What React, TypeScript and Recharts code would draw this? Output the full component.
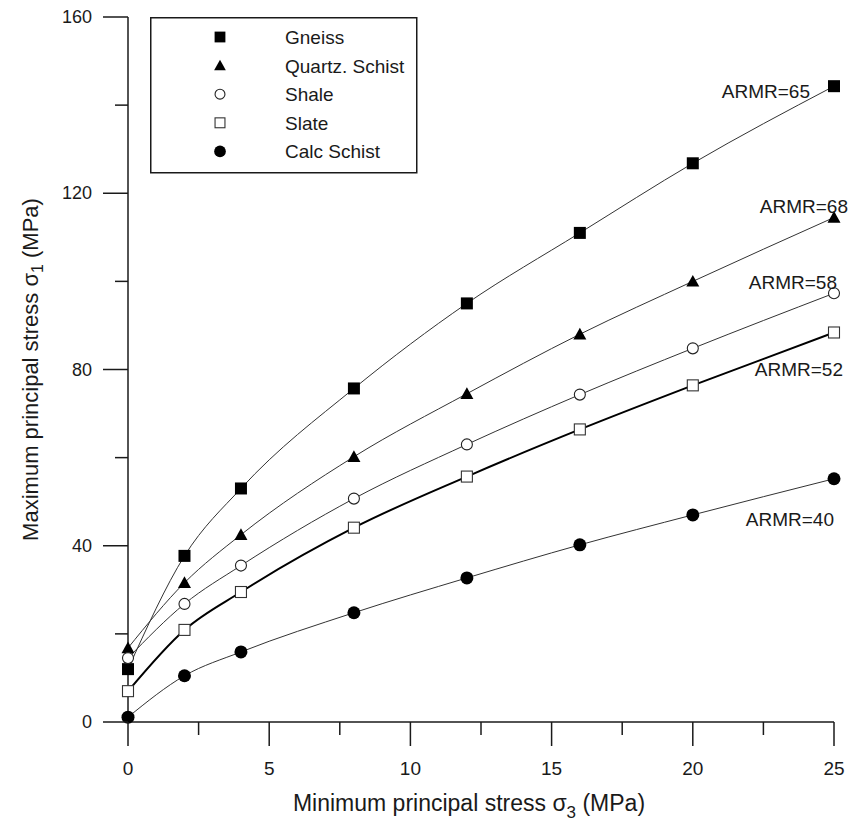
import { LineChart, Line, XAxis, YAxis, Legend, LabelList } from "recharts";

// minimum principal stress sigma3 (MPa)
const sigma3 = [0, 2, 4, 8, 12, 16, 20, 25];

// maximum principal stress sigma1 (MPa), one array per rock
const gneiss = [12, 37.7, 53, 75.7, 95, 111, 126.8, 144.3];
const quartzSchist = [16.8, 31.6, 42.5, 60.2, 74.5, 88, 100, 114.5];
const shale = [14.5, 26.8, 35.5, 50.7, 63, 74.3, 84.8, 97.3];
const slate = [7, 20.9, 29.5, 44.1, 55.7, 66.4, 76.4, 88.4];
const calcSchist = [1.1, 10.5, 15.9, 24.8, 32.7, 40.2, 47, 55.2];

const rockNames = ["Gneiss", "Quartz. Schist", "Shale", "Slate", "Calc Schist"];
const armrLabels = ["ARMR=65", "ARMR=68", "ARMR=58", "ARMR=52", "ARMR=40"];

const xTicks = [0, 2.5, 5, 7.5, 10, 12.5, 15, 17.5, 20, 22.5, 25];
const yTicks = [0, 20, 40, 60, 80, 100, 120, 140, 160];

const FONT = '"Liberation Sans", Arial, sans-serif';
const INK = "#1a1a1a";

type Shape = "fsquare" | "ftriangle" | "ocircle" | "osquare" | "fcircle";

const series = [
  { key: "gneiss", values: gneiss, shape: "fsquare" as Shape, width: 1, dx: -24, dy: 12 },
  { key: "quartz", values: quartzSchist, shape: "ftriangle" as Shape, width: 1, dx: 14, dy: -4 },
  { key: "shale", values: shale, shape: "ocircle" as Shape, width: 1, dx: 3, dy: -4 },
  { key: "slate", values: slate, shape: "osquare" as Shape, width: 2, dx: 9, dy: 44 },
  { key: "calc", values: calcSchist, shape: "fcircle" as Shape, width: 1, dx: 0, dy: 47 },
];

const rows = sigma3.map((x, i) => {
  const r: any = { x };
  series.forEach((s) => (r[s.key] = s.values[i]));
  return r;
});

function Marker({ shape, cx, cy, k = 1 }: { shape: Shape; cx: number; cy: number; k?: number }) {
  if (shape === "fsquare") {
    const h = 6 * k;
    return <rect x={cx - h} y={cy - h} width={2 * h} height={2 * h} fill="#000" />;
  }
  if (shape === "ftriangle") {
    const h = 6.5 * k;
    return <polygon points={`${cx},${cy - h} ${cx + h},${cy + h * 0.8} ${cx - h},${cy + h * 0.8}`} fill="#000" />;
  }
  if (shape === "ocircle") {
    return <circle cx={cx} cy={cy} r={5.5 * k} fill="#fff" stroke="#222" strokeWidth={1.1} />;
  }
  if (shape === "osquare") {
    const h = 5.5 * k;
    return <rect x={cx - h} y={cy - h} width={2 * h} height={2 * h} fill="#fff" stroke="#333" strokeWidth={1.1} />;
  }
  return <circle cx={cx} cy={cy} r={6.5 * k} fill="#000" />;
}

const XTick = (props: any) => {
  const { x, y, payload } = props;
  const major = payload.value % 5 === 0;
  return (
    <g>
      <line x1={x} x2={x} y1={y} y2={y + (major ? 24 : 13)} stroke={INK} strokeWidth={1.5} />
      {major && (
        <text x={x} y={y + 53} textAnchor="middle" fontSize={19} fontFamily={FONT} fill={INK}>
          {payload.value}
        </text>
      )}
    </g>
  );
};

const YTick = (props: any) => {
  const { x, y, payload } = props;
  const major = payload.value % 40 === 0;
  return (
    <g>
      <line x1={x} x2={x - (major ? 25 : 13)} y1={y} y2={y} stroke={INK} strokeWidth={1.5} />
      {major && (
        <text x={x - 36} y={y + 6} textAnchor="end" fontSize={18} fontFamily={FONT} fill={INK}>
          {payload.value}
        </text>
      )}
    </g>
  );
};

const XLabel = (props: any) => {
  const vb = props.viewBox;
  return (
    <text x={vb.x + 341} y={vb.y + 89} textAnchor="middle" fontSize={23} fontFamily={FONT} fill={INK}>
      Minimum principal stress σ
      <tspan dy={7} fontSize={17}>3</tspan>
      <tspan dy={-7}> (MPa)</tspan>
    </text>
  );
};

const YLabel = (props: any) => {
  const vb = props.viewBox;
  const cx = vb.x + 22;
  const cy = vb.y + vb.height / 2;
  return (
    <text
      x={cx}
      y={cy}
      transform={`rotate(-90 ${cx} ${cy})`}
      textAnchor="middle"
      dominantBaseline="central"
      fontSize={22}
      fontFamily={FONT}
      fill={INK}
    >
      Maximum principal stress σ
      <tspan dy={7} fontSize={16}>1</tspan>
      <tspan dy={-7}> (MPa)</tspan>
    </text>
  );
};

const LegendBox = () => (
  <svg width={268} height={157}>
    <rect x={0.75} y={0.75} width={266} height={155} fill="#fff" stroke={INK} strokeWidth={1.5} />
    {series.map((s, i) => (
      <g key={s.key}>
        <Marker shape={s.shape} cx={70} cy={20 + i * 28.6} k={0.9} />
        <text x={135} y={20 + i * 28.6 + 7} fontSize={19} fontFamily={FONT} fill={INK}>
          {rockNames[i]}
        </text>
      </g>
    ))}
  </svg>
);

export default function App() {
  const last = sigma3.length - 1;

  return (
    <div style={{ width: 846, height: 814 }}>
      <LineChart width={846} height={814} data={rows} margin={{ top: 9, right: 20, bottom: 0, left: 0 }}>
        <XAxis
          type="number"
          dataKey="x"
          domain={[0, 25]}
          ticks={xTicks}
          interval={0}
          tickSize={0}
          tickMargin={0}
          tickLine={false}
          tick={<XTick />}
          height={100}
          axisLine={{ stroke: INK, strokeWidth: 1.5 }}
          label={<XLabel />}
        />
        <YAxis
          type="number"
          domain={[0, 160]}
          ticks={yTicks}
          interval={0}
          tickSize={0}
          tickMargin={0}
          tickLine={false}
          tick={<YTick />}
          width={120}
          axisLine={{ stroke: INK, strokeWidth: 1.5 }}
          label={<YLabel />}
        />
        <Legend
          layout="vertical"
          align="center"
          verticalAlign="middle"
          wrapperStyle={{ left: 142, top: 9, width: 268, height: 157 }}
          content={<LegendBox />}
        />
        {series.map((s, si) => (
          <Line
            key={s.key}
            dataKey={s.key}
            type="monotone"
            stroke={s.width > 1 ? "#000" : "#333"}
            strokeWidth={s.width}
            isAnimationActive={false}
            legendType="none"
            dot={(p: any) => <Marker key={`${s.key}-${p.index}`} shape={s.shape} cx={p.cx} cy={p.cy} />}
            activeDot={false}
          >
            <LabelList
              dataKey={s.key}
              content={(p: any) =>
                p.index === last ? (
                  <text
                    x={p.x + s.dx}
                    y={p.y + s.dy}
                    textAnchor="end"
                    fontSize={19}
                    fontFamily={FONT}
                    fill={INK}
                  >
                    {armrLabels[si]}
                  </text>
                ) : null
              }
            />
          </Line>
        ))}
      </LineChart>
    </div>
  );
}
